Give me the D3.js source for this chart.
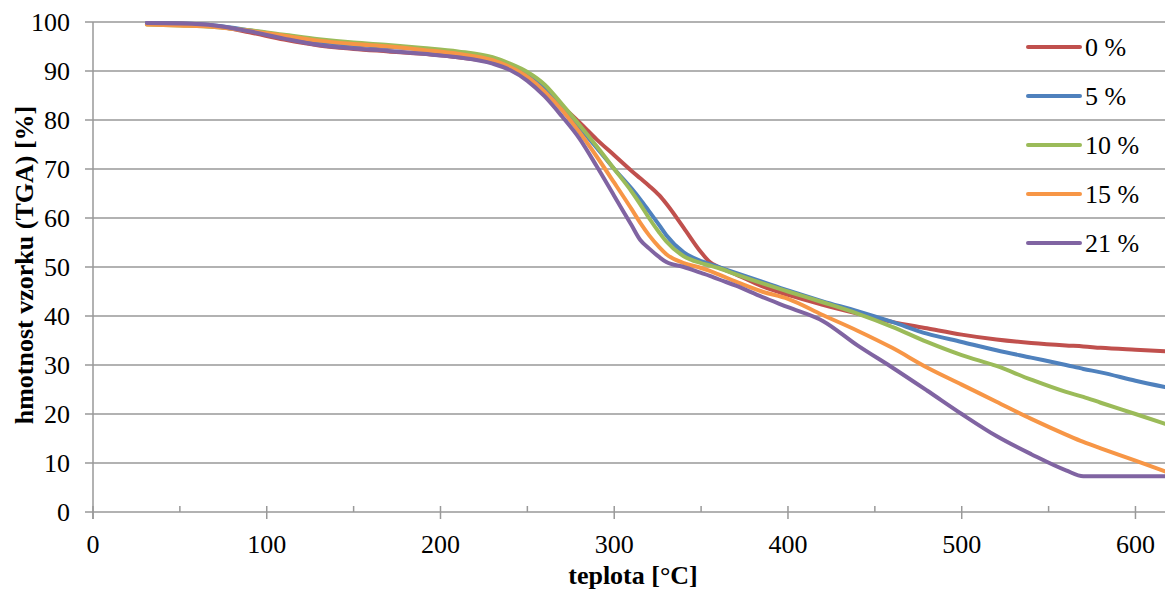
<!DOCTYPE html>
<html><head><meta charset="utf-8">
<script src="https://cdn.jsdelivr.net/npm/d3@7"></script>
<style>body{margin:0;background:#fff}svg{display:block}text{font-family:"Liberation Serif","Times New Roman",serif}</style>
</head><body>
<script>
const temps = [31,50,70,90,110,130,150,170,190,210,230,240,250,260,270,280,290,300,310,315,320,326,330,340,350,355,360,370,385,400,420,440,460,480,500,520,540,560,570,580,600,617];
const s0  = [99.8,99.7,99.2,97.9,96.4,95.2,94.5,94.0,93.5,92.8,91.7,90.5,88.5,85.8,82.8,79.5,76.0,72.8,69.6,68.1,66.6,64.6,62.9,58.0,53.0,51.0,50.0,48.5,46.1,44.3,42.3,40.5,38.8,37.5,36.2,35.2,34.5,34.0,33.8,33.5,33.1,32.8];
const s5  = [99.8,99.7,99.3,98.3,97.1,96.0,95.3,94.9,94.4,93.6,92.4,91.2,89.2,86.3,82.5,78.5,74.3,70.0,66.0,63.8,61.4,58.5,56.5,53.0,51.2,50.6,50.0,48.8,47.0,45.2,43.0,41.0,38.8,36.4,34.7,33.0,31.5,30.0,29.2,28.5,26.8,25.5];
const s10 = [99.5,99.3,99.0,98.3,97.4,96.5,95.8,95.3,94.7,94.0,92.8,91.5,89.8,87.2,83.2,79.0,74.6,70.0,65.4,62.8,60.0,57.0,55.2,52.2,50.8,50.3,49.8,48.5,46.7,45.0,42.8,40.5,37.8,34.7,32.0,29.8,27.0,24.5,23.5,22.3,20.0,18.0];
const s15 = [99.5,99.3,99.0,98.2,97.2,96.2,95.5,95.0,94.3,93.5,92.2,90.8,88.8,85.8,82.0,77.5,72.5,67.2,61.8,59.0,56.5,54.0,52.6,50.8,49.8,49.2,48.5,47.0,45.0,43.5,40.2,37.0,33.5,29.5,26.0,22.5,19.0,15.8,14.3,13.0,10.5,8.3];
const s21 = [99.8,99.7,99.3,98.1,96.6,95.3,94.6,94.1,93.5,92.8,91.5,90.2,88.0,84.8,80.7,76.2,70.5,64.5,58.5,55.5,53.8,52.0,51.0,50.0,48.8,48.2,47.5,46.2,43.9,41.8,39.0,34.0,29.5,24.8,20.0,15.5,11.8,8.5,7.3,7.3,7.3,7.3];
const seriesNames = ["0 %","5 %","10 %","15 %","21 %"];
const seriesValues = [s0,s5,s10,s15,s21];
const colors = ["#C0504D","#4F81BD","#9BBB59","#F79646","#8064A2"];
const xTicks = [0,100,200,300,400,500,600];
const xMinor = [50,150,250,350,450,550];
const yTicks = [0,10,20,30,40,50,60,70,80,90,100];

const W=1165,H=591;
const svg=d3.select("body").append("svg").attr("width",W).attr("height",H);
const x=d3.scaleLinear().domain([0,617]).range([93,1165]);
const y=d3.scaleLinear().domain([0,100]).range([512,22]);
const grid="#999999";

svg.append("g").selectAll("line").data(yTicks).join("line")
  .attr("x1",85).attr("x2",W).attr("y1",d=>y(d)).attr("y2",d=>y(d))
  .attr("stroke",grid).attr("stroke-width",1.5);
svg.append("line").attr("x1",x(0)).attr("x2",x(0)).attr("y1",y(100)).attr("y2",y(0)+7).attr("stroke",grid).attr("stroke-width",1.5);
svg.append("g").selectAll("line").data(xTicks).join("line")
  .attr("x1",d=>x(d)).attr("x2",d=>x(d)).attr("y1",y(0)-6).attr("y2",y(0)+7)
  .attr("stroke",grid).attr("stroke-width",1.5);
svg.append("g").selectAll("line").data(xMinor).join("line")
  .attr("x1",d=>x(d)).attr("x2",d=>x(d)).attr("y1",y(0)-6).attr("y2",y(0))
  .attr("stroke",grid).attr("stroke-width",1.5);

svg.append("g").selectAll("text").data(yTicks).join("text")
  .attr("x",70).attr("y",d=>y(d)+9).attr("text-anchor","end")
  .attr("font-size",26).attr("fill","#000").text(d=>d);
svg.append("g").selectAll("text").data(xTicks).join("text")
  .attr("x",d=>x(d)).attr("y",553).attr("text-anchor","middle")
  .attr("font-size",26).attr("fill","#000").text(d=>d);

svg.append("text").attr("x",633).attr("y",584).attr("text-anchor","middle")
  .attr("font-size",26).attr("font-weight","bold").text("teplota [°C]");
svg.append("text").attr("transform","translate(33,265) rotate(-90)").attr("text-anchor","middle")
  .attr("font-size",26).attr("font-weight","bold").text("hmotnost vzorku (TGA) [%]");

const line=d3.line().x(d=>x(d[0])).y(d=>y(d[1])).curve(d3.curveMonotoneX);
seriesValues.forEach((vals,i)=>{
  svg.append("path").datum(temps.map((t,j)=>[t,vals[j]]))
    .attr("d",line).attr("fill","none").attr("stroke",colors[i])
    .attr("stroke-width",4).attr("stroke-linejoin","round").attr("stroke-linecap","round");
});

const leg=svg.append("g");
seriesNames.forEach((n,i)=>{
  const yy=47+i*49;
  leg.append("line").attr("x1",1028).attr("x2",1080).attr("y1",yy).attr("y2",yy)
    .attr("stroke",colors[i]).attr("stroke-width",4).attr("stroke-linecap","round");
  leg.append("text").attr("x",1085).attr("y",yy+8.5)
    .attr("font-size",26).attr("fill","#000").text(n);
});
</script>
</body></html>
